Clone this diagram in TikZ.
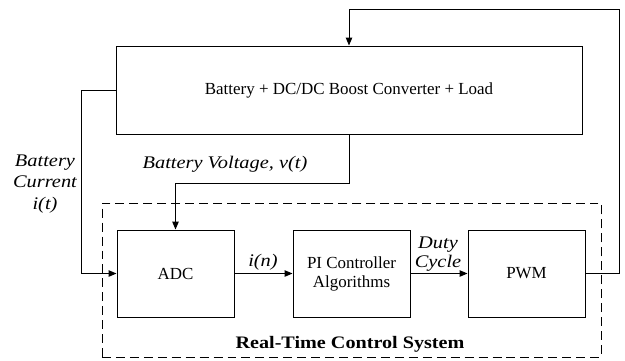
\documentclass[tikz,border=0pt]{standalone}
\usepackage{fontspec}
\setmainfont{Liberation Serif}[ItalicFeatures={FakeStretch=1.15},BoldFeatures={FakeStretch=1.15}]
\usetikzlibrary{arrows.meta, positioning}

\begin{document}
\begin{tikzpicture}[x=1bp, y=-1bp, line width=1pt,
  font=\fontsize{17}{19}\selectfont,
  blk/.style={draw, minimum width=117bp, minimum height=87bp, align=center, inner sep=0pt},
  arr/.style={-{Triangle[length=8pt, width=6.5pt]}},
  rtbox/.style={draw, dash pattern=on 9pt off 5pt, minimum width=499bp, minimum height=154bp, inner sep=0pt},
  lbl/.style={font=\fontsize{17.8}{22}\selectfont\itshape, align=center, inner sep=0pt}]
  \useasboundingbox (0,0) rectangle (625,360);

  % plant and control blocks
  \node[blk, minimum width=466bp, minimum height=88bp] (plant) at (349,90)
    {Battery + DC/DC Boost Converter + Load};
  \node[rtbox] (rtcs) at (351.5,280) {};
  \node[blk] (adc) at (175.5,273.5) {ADC};
  \node[blk] (pi)  at (351.5,273.5) {PI Controller\\Algorithms};
  \node[blk] (pwm) at (526.5,273.5) {PWM};

  \coordinate (fbR)   at (619,9.5);
  \coordinate (curL)  at (81.5,90);
  \coordinate (vBend) at (349,183);

  % connections
  \draw[arr] (pwm.east) -| (fbR) -| (plant.north);
  \draw[arr] (plant.west) -- (curL) |- (adc.west);
  \draw[arr] (plant.south) -- (vBend) -| (adc.north);
  \draw[arr] (adc) -- (pi);
  \draw[arr] (pi) -- (pwm);

  % labels
  \node[lbl] (vlab) at (225,164) {Battery Voltage, v(t)};
  \node[lbl] (ilab) at (45,184) {Battery\\Current\\i(t)};
  \node[lbl] (nlab) at (263,262) {i(n)};
  \node[lbl, font=\fontsize{17.8}{19}\selectfont\itshape] (dlab) at (438,254) {Duty\\Cycle};
  \node[font=\fontsize{17.6}{19}\selectfont\bfseries] (rlab) at (350,344) {Real-Time Control System};
\end{tikzpicture}
\end{document}
